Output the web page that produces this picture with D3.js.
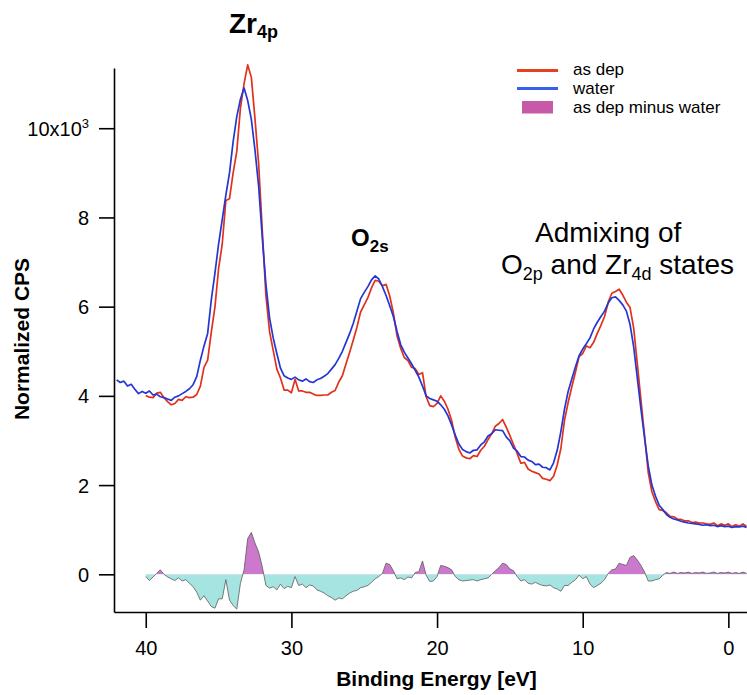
<!DOCTYPE html>
<html>
<head>
<meta charset="utf-8">
<script src="https://cdn.jsdelivr.net/npm/d3@7"></script>
<style>
  html, body { margin: 0; padding: 0; background: #fff; }
  svg { display: block; }
  text { font-family: "Liberation Sans", Arial, Helvetica, sans-serif; fill: #000; }
</style>
</head>
<body>
<svg id="chart" width="747" height="695"></svg>
<script>
// Valence-band spectra, normalized counts (units of 10^3 CPS), sampled every 0.25 eV
// from the start energy downwards.
const sampleStep = 0.25;

// "water" spectrum, 42.00 eV .. -1.25 eV
const waterStart = 42.0;
const water = [
  4.36, 4.30, 4.33, 4.22, 4.26, 4.15, 4.05, 4.10,   // 42.00
  4.06, 4.11, 4.02, 4.04, 3.98, 3.96, 3.93, 3.90,   // 40.00
  3.97, 4.00, 4.05, 4.10, 4.16, 4.25, 4.43, 4.80,   // 38.00
  5.12, 5.40, 6.15, 6.75, 7.40, 7.95, 8.50, 9.00,   // 36.00
  9.70, 10.26, 10.65, 10.90, 10.62, 10.20, 9.51, 8.70, // 34.00
  7.55, 6.50, 5.75, 5.30, 4.95, 4.62, 4.45, 4.40,   // 32.00
  4.37, 4.42, 4.36, 4.33, 4.38, 4.32, 4.30, 4.36,   // 30.00
  4.39, 4.44, 4.50, 4.60, 4.70, 4.84, 5.00, 5.20,   // 28.00
  5.40, 5.63, 5.90, 6.18, 6.32, 6.45, 6.60, 6.69,   // 26.00
  6.62, 6.45, 6.25, 6.02, 5.78, 5.45, 5.15, 4.98,   // 24.00
  4.85, 4.72, 4.57, 4.42, 4.22, 4.00, 3.94, 3.91,   // 22.00
  3.88, 3.80, 3.70, 3.55, 3.35, 3.12, 2.92, 2.80,   // 20.00
  2.75, 2.72, 2.78, 2.79, 2.90, 2.97, 3.10, 3.15,   // 18.00
  3.24, 3.23, 3.22, 3.08, 2.99, 2.83, 2.76, 2.64,   // 16.00
  2.63, 2.56, 2.53, 2.46, 2.47, 2.40, 2.39, 2.34,   // 14.00
  2.50, 2.78, 3.20, 3.70, 4.10, 4.38, 4.65, 4.90,   // 12.00
  5.05, 5.17, 5.30, 5.50, 5.65, 5.78, 5.90, 6.08,   // 10.00
  6.20, 6.22, 6.14, 6.04, 5.90, 5.60, 5.10, 4.40,   // 8.00
  3.70, 3.05, 2.43, 2.00, 1.75, 1.55, 1.45, 1.34,   // 6.00
  1.28, 1.24, 1.22, 1.19, 1.17, 1.15, 1.14, 1.13,   // 4.00
  1.12, 1.10, 1.11, 1.09, 1.10, 1.07, 1.09, 1.07,   // 2.00
  1.08, 1.05, 1.07, 1.06, 1.08, 1.05                // 0.00
];

// "as dep" spectrum, 40.00 eV .. -1.25 eV
const asDepStart = 40.0;
const asDep = [
  4.01, 3.97, 3.96, 4.06, 4.08, 3.96, 3.87, 3.80,   // 40.00
  3.83, 3.92, 3.90, 3.98, 3.96, 3.97, 4.03, 4.22,   // 38.00
  4.64, 4.80, 5.43, 5.99, 6.85, 7.40, 8.38, 8.42,   // 36.00
  9.00, 9.48, 10.45, 11.00, 11.42, 11.14, 10.21, 9.20, // 34.00
  7.72, 6.25, 5.44, 5.02, 4.60, 4.40, 4.13, 4.13,   // 32.00
  4.07, 4.37, 4.11, 4.11, 4.08, 4.08, 4.04, 4.01,   // 30.00
  4.01, 4.02, 4.02, 4.08, 4.12, 4.31, 4.45, 4.72,   // 28.00
  4.98, 5.25, 5.54, 5.88, 6.04, 6.20, 6.42, 6.59,   // 26.00
  6.57, 6.47, 6.50, 6.24, 5.86, 5.35, 5.07, 4.86,   // 24.00
  4.79, 4.64, 4.61, 4.48, 4.52, 3.98, 3.78, 3.76,   // 22.00
  3.83, 4.00, 3.88, 3.70, 3.45, 3.07, 2.80, 2.65,   // 20.00
  2.61, 2.59, 2.66, 2.64, 2.78, 2.87, 3.02, 3.15,   // 18.00
  3.32, 3.38, 3.47, 3.30, 3.11, 2.91, 2.71, 2.49,   // 16.00
  2.51, 2.36, 2.31, 2.28, 2.25, 2.15, 2.13, 2.10,   // 14.00
  2.20, 2.45, 2.82, 3.45, 3.85, 4.20, 4.53, 4.88,   // 12.00
  4.95, 5.12, 5.08, 5.20, 5.40, 5.58, 5.78, 6.10,   // 10.00
  6.30, 6.34, 6.39, 6.26, 6.10, 5.98, 5.52, 4.72,   // 8.00
  3.90, 3.10, 2.28, 1.85, 1.63, 1.45, 1.43, 1.38,   // 6.00
  1.30, 1.29, 1.24, 1.23, 1.20, 1.20, 1.16, 1.17,   // 4.00
  1.15, 1.15, 1.13, 1.12, 1.15, 1.09, 1.13, 1.10,   // 2.00
  1.13, 1.07, 1.11, 1.08, 1.13, 1.07                // 0.00
];

// "as dep minus water" difference spectrum, 40.00 eV .. -1.25 eV
const diffStart = 40.0;
const diff = [
  -0.05, -0.14, -0.06, 0.02, 0.10, 0.00, -0.06, -0.10,   // 40.00
  -0.14, -0.08, -0.15, -0.12, -0.20, -0.28, -0.40, -0.58, // 38.00
  -0.48, -0.60, -0.72, -0.76, -0.55, -0.55, -0.12, -0.58, // 36.00
  -0.70, -0.78, -0.20, 0.10, 0.80, 0.94, 0.70, 0.50,      // 34.00
  0.17, -0.25, -0.31, -0.28, -0.35, -0.22, -0.32, -0.27,  // 32.00
  -0.30, -0.05, -0.25, -0.22, -0.30, -0.24, -0.26, -0.35, // 30.00
  -0.38, -0.42, -0.48, -0.52, -0.58, -0.53, -0.55, -0.48, // 28.00
  -0.42, -0.38, -0.36, -0.30, -0.28, -0.25, -0.18, -0.10, // 26.00
  -0.05, 0.02, 0.25, 0.22, 0.08, -0.10, -0.08, -0.12,     // 24.00
  -0.06, -0.08, 0.04, 0.06, 0.30, -0.02, -0.16, -0.15,    // 22.00
  -0.05, 0.20, 0.18, 0.15, 0.10, -0.05, -0.12, -0.15,     // 20.00
  -0.14, -0.13, -0.12, -0.15, -0.12, -0.10, -0.08, 0.00,  // 18.00
  0.08, 0.15, 0.25, 0.22, 0.12, 0.08, -0.05, -0.15,       // 16.00
  -0.12, -0.20, -0.22, -0.18, -0.22, -0.25, -0.26, -0.24, // 14.00
  -0.30, -0.33, -0.38, -0.25, -0.25, -0.18, -0.12, -0.02, // 12.00
  -0.10, -0.05, -0.22, -0.30, -0.25, -0.20, -0.12, 0.02,  // 10.00
  0.10, 0.12, 0.25, 0.22, 0.20, 0.38, 0.42, 0.32,         // 8.00
  0.20, 0.05, -0.15, -0.15, -0.12, -0.10, -0.02, 0.04,    // 6.00
  0.02, 0.05, 0.02, 0.04, 0.03, 0.05, 0.02, 0.04,         // 4.00
  0.03, 0.05, 0.02, 0.03, 0.05, 0.02, 0.04, 0.03,         // 2.00
  0.05, 0.02, 0.04, 0.02, 0.05, 0.02                      // 0.00
];

// Axis ticks
const xTickValues = [40, 30, 20, 10, 0];
const yTickValues = [0, 2, 4, 6, 8, 10];
const yTickLabels = ["0", "2", "4", "6", "8", "10x10"];

// Legend entries
const legendLabels = ["as dep", "water", "as dep minus water"];

// ---------------------------------------------------------------------------
const svg = d3.select("#chart");
const W = 747, H = 695;
const plotLeft = 114, plotRight = 747, plotTop = 68, plotBottom = 612;

const x = d3.scaleLinear().domain([42.18, -1.28]).range([plotLeft, plotRight]);
const y = d3.scaleLinear().domain([-0.845, 11.35]).range([plotBottom, plotTop]);

const colRed = "#e1311b";
const colBlue = "#2436d4";
const colPos = "#cc78cc";
const colNeg = "#a6e4e1";

const toPoints = (arr, start) => arr.map((v, i) => ({ e: start - i * sampleStep, v }));
const waterPts = toPoints(water, waterStart);
const asDepPts = toPoints(asDep, asDepStart);
const diffPts = toPoints(diff, diffStart);

// Difference spectrum: filled relative to zero, magenta above and cyan below
const defs = svg.append("defs");
defs.append("clipPath").attr("id", "clipPos")
  .append("rect").attr("x", 0).attr("y", 0).attr("width", W).attr("height", y(0));
defs.append("clipPath").attr("id", "clipNeg")
  .append("rect").attr("x", 0).attr("y", y(0)).attr("width", W).attr("height", H - y(0));

const diffArea = d3.area().x(d => x(d.e)).y0(y(0)).y1(d => y(d.v));
svg.append("path").datum(diffPts).attr("d", diffArea)
  .attr("fill", colPos).attr("clip-path", "url(#clipPos)");
svg.append("path").datum(diffPts).attr("d", diffArea)
  .attr("fill", colNeg).attr("clip-path", "url(#clipNeg)");
svg.append("path").datum(diffPts)
  .attr("d", d3.line().x(d => x(d.e)).y(d => y(d.v)))
  .attr("fill", "none").attr("stroke", "#5a5a5a").attr("stroke-width", 0.8);

// Main spectra
const line = d3.line().x(d => x(d.e)).y(d => y(d.v));
svg.append("path").datum(asDepPts).attr("d", line)
  .attr("fill", "none").attr("stroke", colRed).attr("stroke-width", 1.7)
  .attr("stroke-linejoin", "round");
svg.append("path").datum(waterPts).attr("d", line)
  .attr("fill", "none").attr("stroke", colBlue).attr("stroke-width", 1.7)
  .attr("stroke-linejoin", "round");

// Axes
const xAxis = d3.axisBottom(x).tickValues(xTickValues).tickFormat(d3.format("d"))
  .tickSize(16).tickSizeOuter(0).tickPadding(13);
const gx = svg.append("g").attr("transform", `translate(0,${plotBottom})`).call(xAxis);

const yAxis = d3.axisLeft(y).tickValues(yTickValues)
  .tickFormat((d, i) => yTickLabels[i]).tickSize(15).tickSizeOuter(0).tickPadding(10);
const gy = svg.append("g").attr("transform", `translate(${plotLeft},0)`).call(yAxis);

[gx, gy].forEach(g => {
  g.select(".domain").attr("stroke", "#000").attr("stroke-width", 1.6);
  g.selectAll(".tick line").attr("stroke", "#000").attr("stroke-width", 1.6);
  g.selectAll(".tick text").attr("font-size", 20).attr("fill", "#000")
    .style("font-family", '"Liberation Sans", Arial, sans-serif');
});
gy.selectAll(".tick text").attr("dy", "0.35em");
// exponent on the top tick label
gy.selectAll(".tick text").filter(d => d === 10)
  .append("tspan").attr("dy", -8).attr("font-size", 13).text("3");

// Axis titles
svg.append("text").attr("x", 436.5).attr("y", 686)
  .attr("text-anchor", "middle").attr("font-size", 21).attr("font-weight", "bold")
  .text("Binding Energy [eV]");
svg.append("text").attr("transform", "translate(29,339) rotate(-90)")
  .attr("text-anchor", "middle").attr("font-size", 21).attr("font-weight", "bold")
  .text("Normalized CPS");

// Legend
const legend = svg.append("g");
legend.append("line").attr("x1", 517).attr("x2", 558).attr("y1", 70.5).attr("y2", 70.5)
  .attr("stroke", "#e5411f").attr("stroke-width", 3);
legend.append("line").attr("x1", 517).attr("x2", 558).attr("y1", 88.5).attr("y2", 88.5)
  .attr("stroke", "#3660ee").attr("stroke-width", 3);
legend.append("rect").attr("x", 522).attr("y", 101).attr("width", 31).attr("height", 12.5)
  .attr("fill", "#c75aa6");
const legendY = [75, 94, 113];
legend.selectAll("text.lg").data(legendLabels).join("text").attr("class", "lg")
  .attr("x", 573).attr("y", (d, i) => legendY[i]).attr("font-size", 17).text(d => d);

// Peak annotations
const zr = svg.append("text").attr("x", 229).attr("y", 33).attr("font-weight", "bold");
zr.append("tspan").attr("font-size", 28).text("Zr");
zr.append("tspan").attr("font-size", 18).attr("dy", 5).text("4p");

const o2s = svg.append("text").attr("x", 351).attr("y", 246).attr("font-weight", "bold");
o2s.append("tspan").attr("font-size", 24).text("O");
o2s.append("tspan").attr("font-size", 17).attr("dy", 6).text("2s");

svg.append("text").attr("x", 535).attr("y", 242).attr("font-size", 28).text("Admixing of");
const mix = svg.append("text").attr("x", 501).attr("y", 273.5).attr("font-size", 28);
mix.append("tspan").text("O");
mix.append("tspan").attr("font-size", 18).attr("dy", 6).text("2p");
mix.append("tspan").attr("dy", -6).text(" and Zr");
mix.append("tspan").attr("font-size", 18).attr("dy", 6).text("4d");
mix.append("tspan").attr("dy", -6).text(" states");
</script>
</body>
</html>
